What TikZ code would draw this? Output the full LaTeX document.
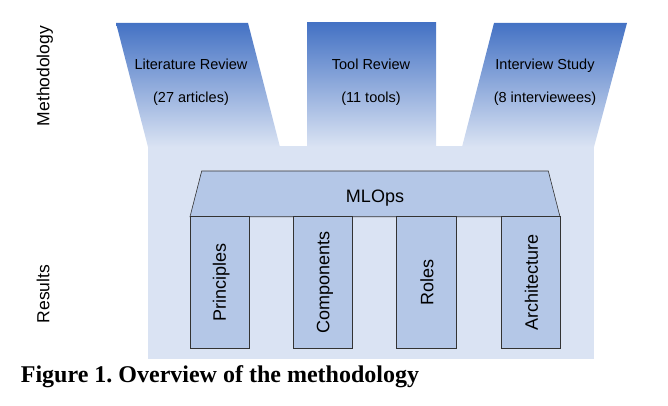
\documentclass[tikz,border=0pt]{standalone}
\usepackage{fontspec}
\setmainfont{Liberation Sans}
\newfontfamily\capfont{Liberation Serif}
\definecolor{topblue}{HTML}{4472C4}
\definecolor{bgblue}{HTML}{DAE3F3}
\definecolor{partblue}{HTML}{B4C7E7}
\tikzset{
  funnel/.style={top color=topblue, bottom color=bgblue, draw=none},
  part/.style={fill=partblue, draw=black!80, line width=0.6pt},
  toplabel/.style={font=\fontsize{14.5}{16}\selectfont, anchor=base, inner sep=0pt},
  pillarlabel/.style={font=\fontsize{18}{20}\selectfont, anchor=base, rotate=90, inner sep=0pt},
  sidelabel/.style={font=\fontsize{17.5}{20}\selectfont, anchor=base, rotate=90, inner sep=0pt},
}
\begin{document}
\frenchspacing
\begin{tikzpicture}[x=1pt,y=-1pt]
\useasboundingbox (0,0) rectangle (668,406);
% background of results
\fill[bgblue] (148,146.5) rectangle (594,359);
% funnels
\path[funnel] (116,23) -- (248,23) -- (280,147) -- (148,147) -- cycle;
\path[funnel] (307,23) -- (436,23) -- (436,147) -- (307,147) -- cycle;
\path[funnel] (494,23) -- (627,23) -- (594,147) -- (462,147) -- cycle;
% funnel texts
\node[toplabel] (lr1) at (191,70) {Literature Review};
\node[toplabel] (lr2) at (191,103) {(27 articles)};
\node[toplabel] (tr1) at (371,70) {Tool Review};
\node[toplabel] (tr2) at (371,103) {(11 tools)};
\node[toplabel] (is1) at (545,70) {Interview Study};
\node[toplabel] (is2) at (545,103) {(8 interviewees)};
% temple
\draw[part] (201.7,171) -- (548.3,171) -- (560,216.7) -- (190,216.7) -- cycle;
\node[font=\fontsize{18}{20}\selectfont, anchor=base, inner sep=0pt] (mlops) at (375,202.3) {MLOps};
\draw[part] (190,216.7) rectangle (249.3,348.3);
\draw[part] (293.3,216.7) rectangle (352.3,348.3);
\draw[part] (396.7,216.7) rectangle (456,348.3);
\draw[part] (501.7,216.7) rectangle (560,348.3);
\node[pillarlabel] (p1) at (225.8,282.5) {Principles};
\node[pillarlabel] (p2) at (329.3,282.5) {Components};
\node[pillarlabel] (p3) at (433.3,282.5) {Roles};
\node[pillarlabel] (p4) at (537.8,282.5) {Architecture};
% side labels
\node[sidelabel] (meth) at (49.3,76) {Methodology};
\node[sidelabel] (res) at (49.3,294) {Results};
% caption
\node[font=\capfont\bfseries\fontsize{24}{26}\selectfont, anchor=base west, inner sep=0pt] (cap) at (20.7,382.5) {Figure 1. Overview of the methodology};
\end{tikzpicture}
\end{document}
